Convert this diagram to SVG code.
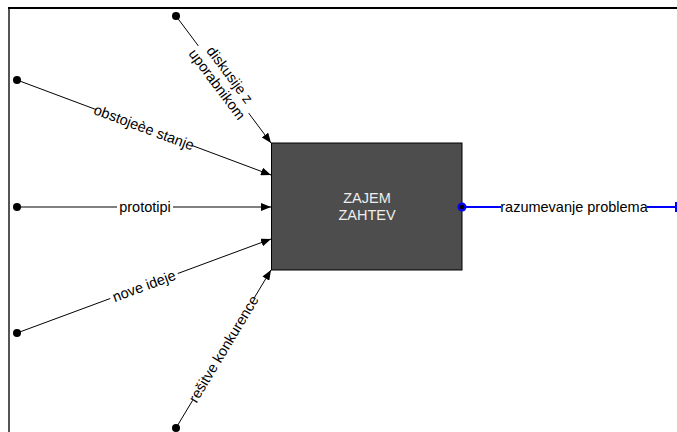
<svg xmlns="http://www.w3.org/2000/svg" width="677" height="432" viewBox="0 0 677 432">
<style>
.ln{stroke:#000;stroke-width:1;fill:none}
.lbl{font-family:"Liberation Sans",Arial,sans-serif;font-size:14.5px;fill:#000;text-anchor:middle;dominant-baseline:central}
.bg{fill:#fff}
.dot{fill:#000}
.box{fill:#4d4d4d;stroke:#000;stroke-width:1}
.bt{font-family:"Liberation Sans",Arial,sans-serif;font-size:14.5px;fill:#eeeeee;text-anchor:middle}
</style>
<defs>
<marker id="arr" viewBox="0 0 10 8" refX="10" refY="4" markerWidth="10" markerHeight="8" markerUnits="userSpaceOnUse" orient="auto">
<path d="M0,0 L10,4 L0,8 Z" fill="#000"/>
</marker>
</defs>
<g id="frame">
<line x1="9" y1="8" x2="9" y2="432" stroke="#555" stroke-width="2"/>
<line x1="8" y1="8" x2="677" y2="8" stroke="#000" stroke-width="2"/>
</g>
<g id="connectors">
<g id="c1">
<line class="ln" x1="176" y1="16" x2="271" y2="143" marker-end="url(#arr)"/>
<circle class="dot" cx="176" cy="16" r="4"/>
<g transform="translate(223.5,79.5) rotate(53.2)">
<rect class="bg" x="-42" y="-17" width="84" height="34"/>
<text class="lbl" x="0" y="-8">diskusije z</text>
<text class="lbl" x="0" y="8">uporabnikom</text>
</g>
</g>
<g id="c2">
<line class="ln" x1="17" y1="80" x2="271" y2="175" marker-end="url(#arr)"/>
<circle class="dot" cx="17" cy="80" r="4"/>
<g transform="translate(144,127.5) rotate(20.5)">
<rect class="bg" x="-51" y="-8" width="102" height="16"/>
<text class="lbl" x="0" y="0">obstojeèe stanje</text>
</g>
</g>
<g id="c3">
<line class="ln" x1="17" y1="207" x2="271" y2="207" marker-end="url(#arr)"/>
<circle class="dot" cx="17" cy="207" r="4"/>
<rect class="bg" x="117" y="199" width="56" height="16"/>
<text class="lbl" x="145" y="207">prototipi</text>
</g>
<g id="c4">
<line class="ln" x1="17" y1="333" x2="271" y2="239" marker-end="url(#arr)"/>
<circle class="dot" cx="17" cy="333" r="4"/>
<g transform="translate(144,286) rotate(-20.3)">
<rect class="bg" x="-36" y="-8" width="72" height="16"/>
<text class="lbl" x="0" y="0">nove ideje</text>
</g>
</g>
<g id="c5">
<line class="ln" x1="176" y1="428" x2="271" y2="270" marker-end="url(#arr)"/>
<circle class="dot" cx="176" cy="428" r="4"/>
<g transform="translate(223.5,349) rotate(-59)">
<rect class="bg" x="-60" y="-8" width="120" height="16"/>
<text class="lbl" x="0" y="0">rešitve konkurence</text>
</g>
</g>
<g id="c6">
<line x1="462" y1="207" x2="676" y2="207" stroke="#0000ff" stroke-width="2"/>
<line x1="676" y1="202" x2="676" y2="212" stroke="#0000ff" stroke-width="2"/>
<rect class="bg" x="501" y="199" width="146" height="16"/>
<text class="lbl" x="574" y="207">razumevanje problema</text>
</g>
</g>
<g id="zajem">
<rect class="box" x="271.5" y="143" width="190.5" height="127"/>
<text class="bt" x="367" y="203">ZAJEM</text>
<text class="bt" x="367" y="220">ZAHTEV</text>
</g>
<g id="outdot">
<circle cx="462" cy="207" r="4.5" fill="#0000ff"/>
<circle cx="462" cy="207" r="2.3" fill="#000"/>
</g>
</svg>
